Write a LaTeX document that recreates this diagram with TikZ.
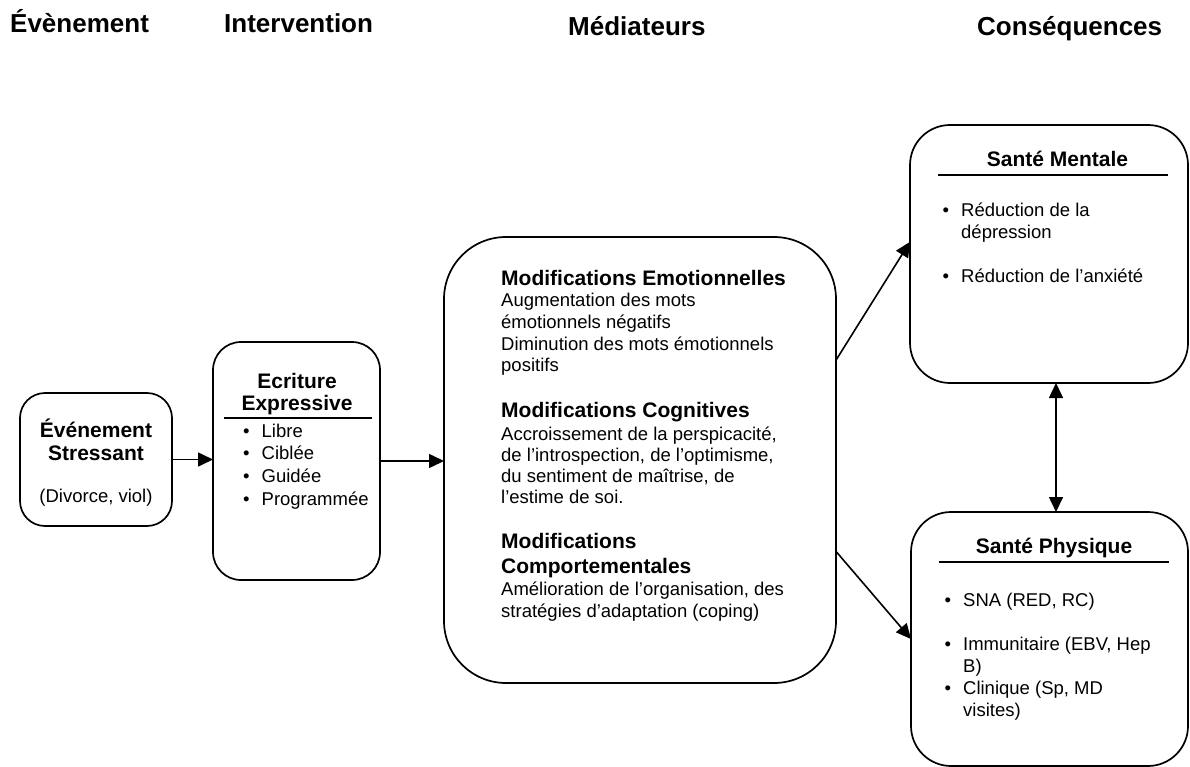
\documentclass[tikz,border=0pt]{standalone}
\usepackage{fontspec}
\setmainfont{Liberation Sans}
\usetikzlibrary{arrows.meta,calc}
\begin{document}
\begin{tikzpicture}[x=1pt,y=-1pt,
  box/.style={draw, line width=1.7pt, inner sep=0pt, outer sep=0pt, fill=white},
  arr/.style={line width=1.6pt, -{Triangle[length=15pt,width=14pt]}},
  arrb/.style={line width=1.6pt, {Triangle[length=15pt,width=14pt]}-{Triangle[length=15pt,width=14pt]}},
  txt/.style={inner sep=0pt, anchor=base west},
  ctxt/.style={inner sep=0pt, anchor=base},
  hdr/.style={inner sep=0pt, anchor=base west, font=\fontsize{26}{28}\selectfont\bfseries},
  btitle/.style={inner sep=0pt, anchor=base, font=\fontsize{21}{23}\selectfont\bfseries},
  sep/.style={line width=1.5pt}
]
\useasboundingbox (0,0) rectangle (1190,767);

% headers
\node[hdr] (h1) at (10,33) {Évènement};
\node[hdr] (h2) at (224,33) {Intervention};
\node[hdr] (h3) at (568,36) {Médiateurs};
\node[hdr] (h4) at (977,36) {Conséquences};

% boxes
\node[box, minimum width=152pt, minimum height=133pt, rounded corners=25pt] (ev) at (96,459.5) {};
\node[box, minimum width=167pt, minimum height=238pt, rounded corners=28pt] (ecr) at (296.5,461) {};
\node[box, minimum width=392pt, minimum height=446pt, rounded corners=62pt] (med) at (640,460) {};
\node[box, minimum width=278pt, minimum height=258pt, rounded corners=40pt] (ment) at (1049,254) {};
\node[box, minimum width=277pt, minimum height=254pt, rounded corners=40pt] (phys) at (1049.5,639) {};

% separators
\draw[sep] (224,418) -- (372,418);
\draw[sep] (938,175) -- (1168,175);
\draw[sep] (939,562) -- (1169,562);

% connectors
\draw[arr] (ev.east) -- (ev.east -| ecr.west);
\draw[arr] (ecr.east) -- (ecr.east -| med.west);
\draw[arr] (med.27.7) -- (ment.175.5);
\draw[arr] (med.-25.1) -- (phys.west);
\draw[arrb] ($(ment.south)+(7,0)$) -- ($(phys.north)+(6.5,0)$);

% box 1
\node[btitle] (evt) at (96,437) {\begin{tabular}[t]{@{}c@{}}Événement\\Stressant\end{tabular}};
\node[ctxt, font=\fontsize{18.5}{21}\selectfont] (evs) at (96,502) {(Divorce, viol)};

% box 2
\node[btitle, font=\fontsize{21}{22}\selectfont\bfseries] (ecrt) at (297,388) {\begin{tabular}[t]{@{}c@{}}Ecriture\\Expressive\end{tabular}};
\node[txt, font=\fontsize{18.5}{22.7}\selectfont] (ecrl) at (243,437) {\begin{tabular}[t]{@{}l@{\hspace{12pt}}l@{}}\textbullet & Libre\\ \textbullet & Ciblée\\ \textbullet & Guidée\\ \textbullet & Programmée\end{tabular}};

% box 3
\node[txt, font=\fontsize{18.5}{21.7}\selectfont] (m1) at (501,285) {\begin{tabular}[t]{@{}l@{}}{\fontsize{21}{24}\selectfont\bfseries Modifications Emotionnelles}\\ Augmentation des mots\\ émotionnels négatifs\\ Diminution des mots émotionnels\\ positifs\end{tabular}};
\node[txt, font=\fontsize{18.5}{21}\selectfont] (m2) at (501,417) {\begin{tabular}[t]{@{}l@{}}{\fontsize{21}{24}\selectfont\bfseries Modifications Cognitives}\\[2pt] Accroissement de la perspicacité,\\ de l’introspection, de l’optimisme,\\ du sentiment de maîtrise, de\\ l’estime de soi.\end{tabular}};
\node[txt, font=\fontsize{18.5}{22}\selectfont] (m3) at (501,548) {\begin{tabular}[t]{@{}l@{}}{\fontsize{21}{24}\selectfont\bfseries Modifications}\\[3pt] {\fontsize{21}{24}\selectfont\bfseries Comportementales}\\ Amélioration de l’organisation, des\\ stratégies d’adaptation (coping)\end{tabular}};

% box 4
\node[btitle] (mentt) at (1057.5,167) {Santé Mentale};
\node[txt, font=\fontsize{18.5}{22}\selectfont] (mentl) at (942.5,217) {\begin{tabular}[t]{@{}l@{\hspace{12pt}}l@{}}\textbullet & Réduction de la\\ & dépression\\ & \\ \textbullet & Réduction de l’anxiété\end{tabular}};

% box 5
\node[btitle] (physt) at (1054,553) {Santé Physique};
\node[txt, font=\fontsize{18.5}{22}\selectfont] (physl) at (944.5,606) {\begin{tabular}[t]{@{}l@{\hspace{12pt}}l@{}}\textbullet & SNA (RED, RC)\\ & \\ \textbullet & Immunitaire (EBV, Hep\\ & B)\\ \textbullet & Clinique (Sp, MD\\ & visites)\end{tabular}};
\end{tikzpicture}
\end{document}
